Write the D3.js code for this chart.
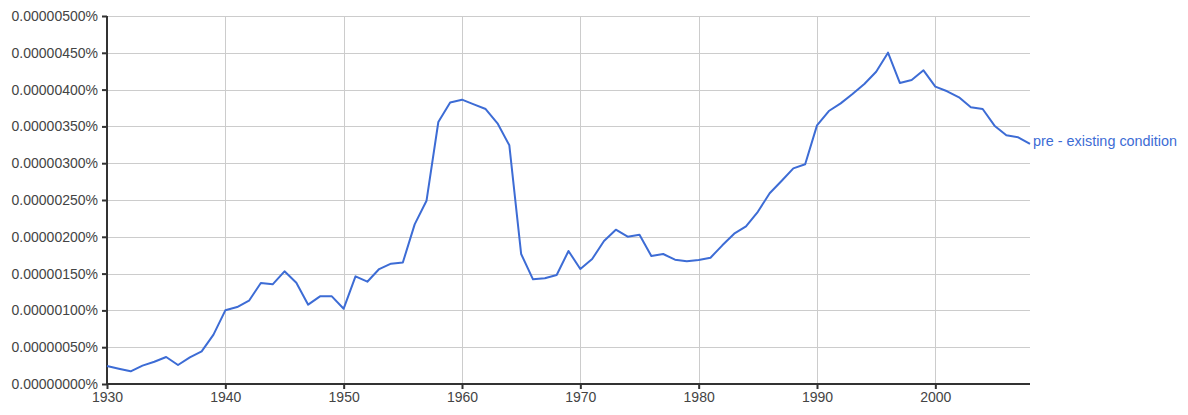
<!DOCTYPE html>
<html>
<head>
<meta charset="utf-8">
<script src="https://cdn.jsdelivr.net/npm/d3@7"></script>
<style>
  body { margin: 0; background: #fff; }
  text { font-family: Arial, "Liberation Sans", sans-serif; }
</style>
</head>
<body>
<div id="chart"></div>
<script>
// years 1930 - 2008
var years = d3.range(1930, 2009);

// frequency, in millionths of a percent (1 = 0.000001%)
var freq = [
  0.245, 0.208, 0.172, 0.249, 0.303, 0.367, 0.258, 0.362, 0.444, 0.670,
  1.001, 1.046, 1.132, 1.372, 1.354, 1.531, 1.377, 1.078, 1.191, 1.191,
  1.023, 1.463, 1.390, 1.562, 1.635, 1.651, 2.169, 2.489, 3.560, 3.825,
  3.863, 3.800, 3.736, 3.542, 3.243, 1.766, 1.422, 1.436, 1.481, 1.807,
  1.562, 1.698, 1.943, 2.097, 2.002, 2.029, 1.739, 1.766, 1.689, 1.667,
  1.685, 1.716, 1.884, 2.042, 2.142, 2.340, 2.591, 2.758, 2.930, 2.985,
  3.514, 3.709, 3.813, 3.940, 4.076, 4.243, 4.502, 4.090, 4.130, 4.262,
  4.040, 3.977, 3.895, 3.759, 3.736, 3.510, 3.379, 3.352, 3.261
];

var seriesName = "pre - existing condition";
var yTicks = [0, 0.5, 1, 1.5, 2, 2.5, 3, 3.5, 4, 4.5, 5];
var xTicks = [1930, 1940, 1950, 1960, 1970, 1980, 1990, 2000];

var W = 1188, H = 415;
var margin = {top: 16, right: 158, bottom: 31, left: 107};
var width = W - margin.left - margin.right,
    height = H - margin.top - margin.bottom;

var svg = d3.select("#chart").append("svg")
  .attr("width", W)
  .attr("height", H);

var g = svg.append("g")
  .attr("transform", "translate(" + margin.left + "," + margin.top + ")");

var x = d3.scaleLinear().domain([1930, 2008]).range([0, width]);
var y = d3.scaleLinear().domain([0, 5]).range([height, 0]);

// grid
g.append("g").selectAll("line")
  .data(yTicks.slice(1))
  .enter().append("line")
  .attr("x1", 0).attr("x2", width)
  .attr("y1", function(d) { return Math.round(y(d)) + 0.5; })
  .attr("y2", function(d) { return Math.round(y(d)) + 0.5; })
  .style("stroke", "#cccccc").style("stroke-width", 1);

g.append("g").selectAll("line")
  .data(xTicks.slice(1))
  .enter().append("line")
  .attr("y1", 0).attr("y2", height)
  .attr("x1", function(d) { return Math.round(x(d)) + 0.5; })
  .attr("x2", function(d) { return Math.round(x(d)) + 0.5; })
  .style("stroke", "#cccccc").style("stroke-width", 1);

// axes
var yAxis = d3.axisLeft(y)
  .tickValues(yTicks)
  .tickSize(5)
  .tickPadding(4)
  .tickFormat(function(d) { return (d * 1e-6).toFixed(8) + "%"; });

var yG = g.append("g").call(yAxis);
yG.select(".domain").remove();
yG.selectAll("line").style("stroke", "#333").style("stroke-width", 2);
yG.selectAll("text").style("font-size", "14px").style("fill", "#444");

var xAxis = d3.axisBottom(x)
  .tickValues(xTicks)
  .tickSize(5)
  .tickPadding(3)
  .tickFormat(d3.format("d"));

var xG = g.append("g")
  .attr("transform", "translate(0," + height + ")")
  .call(xAxis);
xG.select(".domain").remove();
xG.selectAll("line").style("stroke", "#333").style("stroke-width", 2);
xG.selectAll("text").style("font-size", "14px").style("fill", "#444");

g.append("line")
  .attr("x1", 0).attr("x2", 0).attr("y1", 0).attr("y2", height + 1)
  .style("stroke", "#333").style("stroke-width", 2);
g.append("line")
  .attr("x1", -1).attr("x2", width).attr("y1", height).attr("y2", height)
  .style("stroke", "#333").style("stroke-width", 2);

// series line
var line = d3.line()
  .x(function(d, i) { return x(years[i]); })
  .y(function(d) { return y(d); });

g.append("path")
  .datum(freq)
  .attr("d", line)
  .style("fill", "none")
  .style("stroke", "#3d6cd5")
  .style("stroke-width", 2)
  .style("stroke-linejoin", "round");

// label at end of line
g.append("text")
  .attr("x", x(2008) + 3)
  .attr("y", y(freq[freq.length - 1]) + 2)
  .style("font-size", "14.4px")
  .style("fill", "#3d6cd5")
  .text(seriesName);
</script>
</body>
</html>
